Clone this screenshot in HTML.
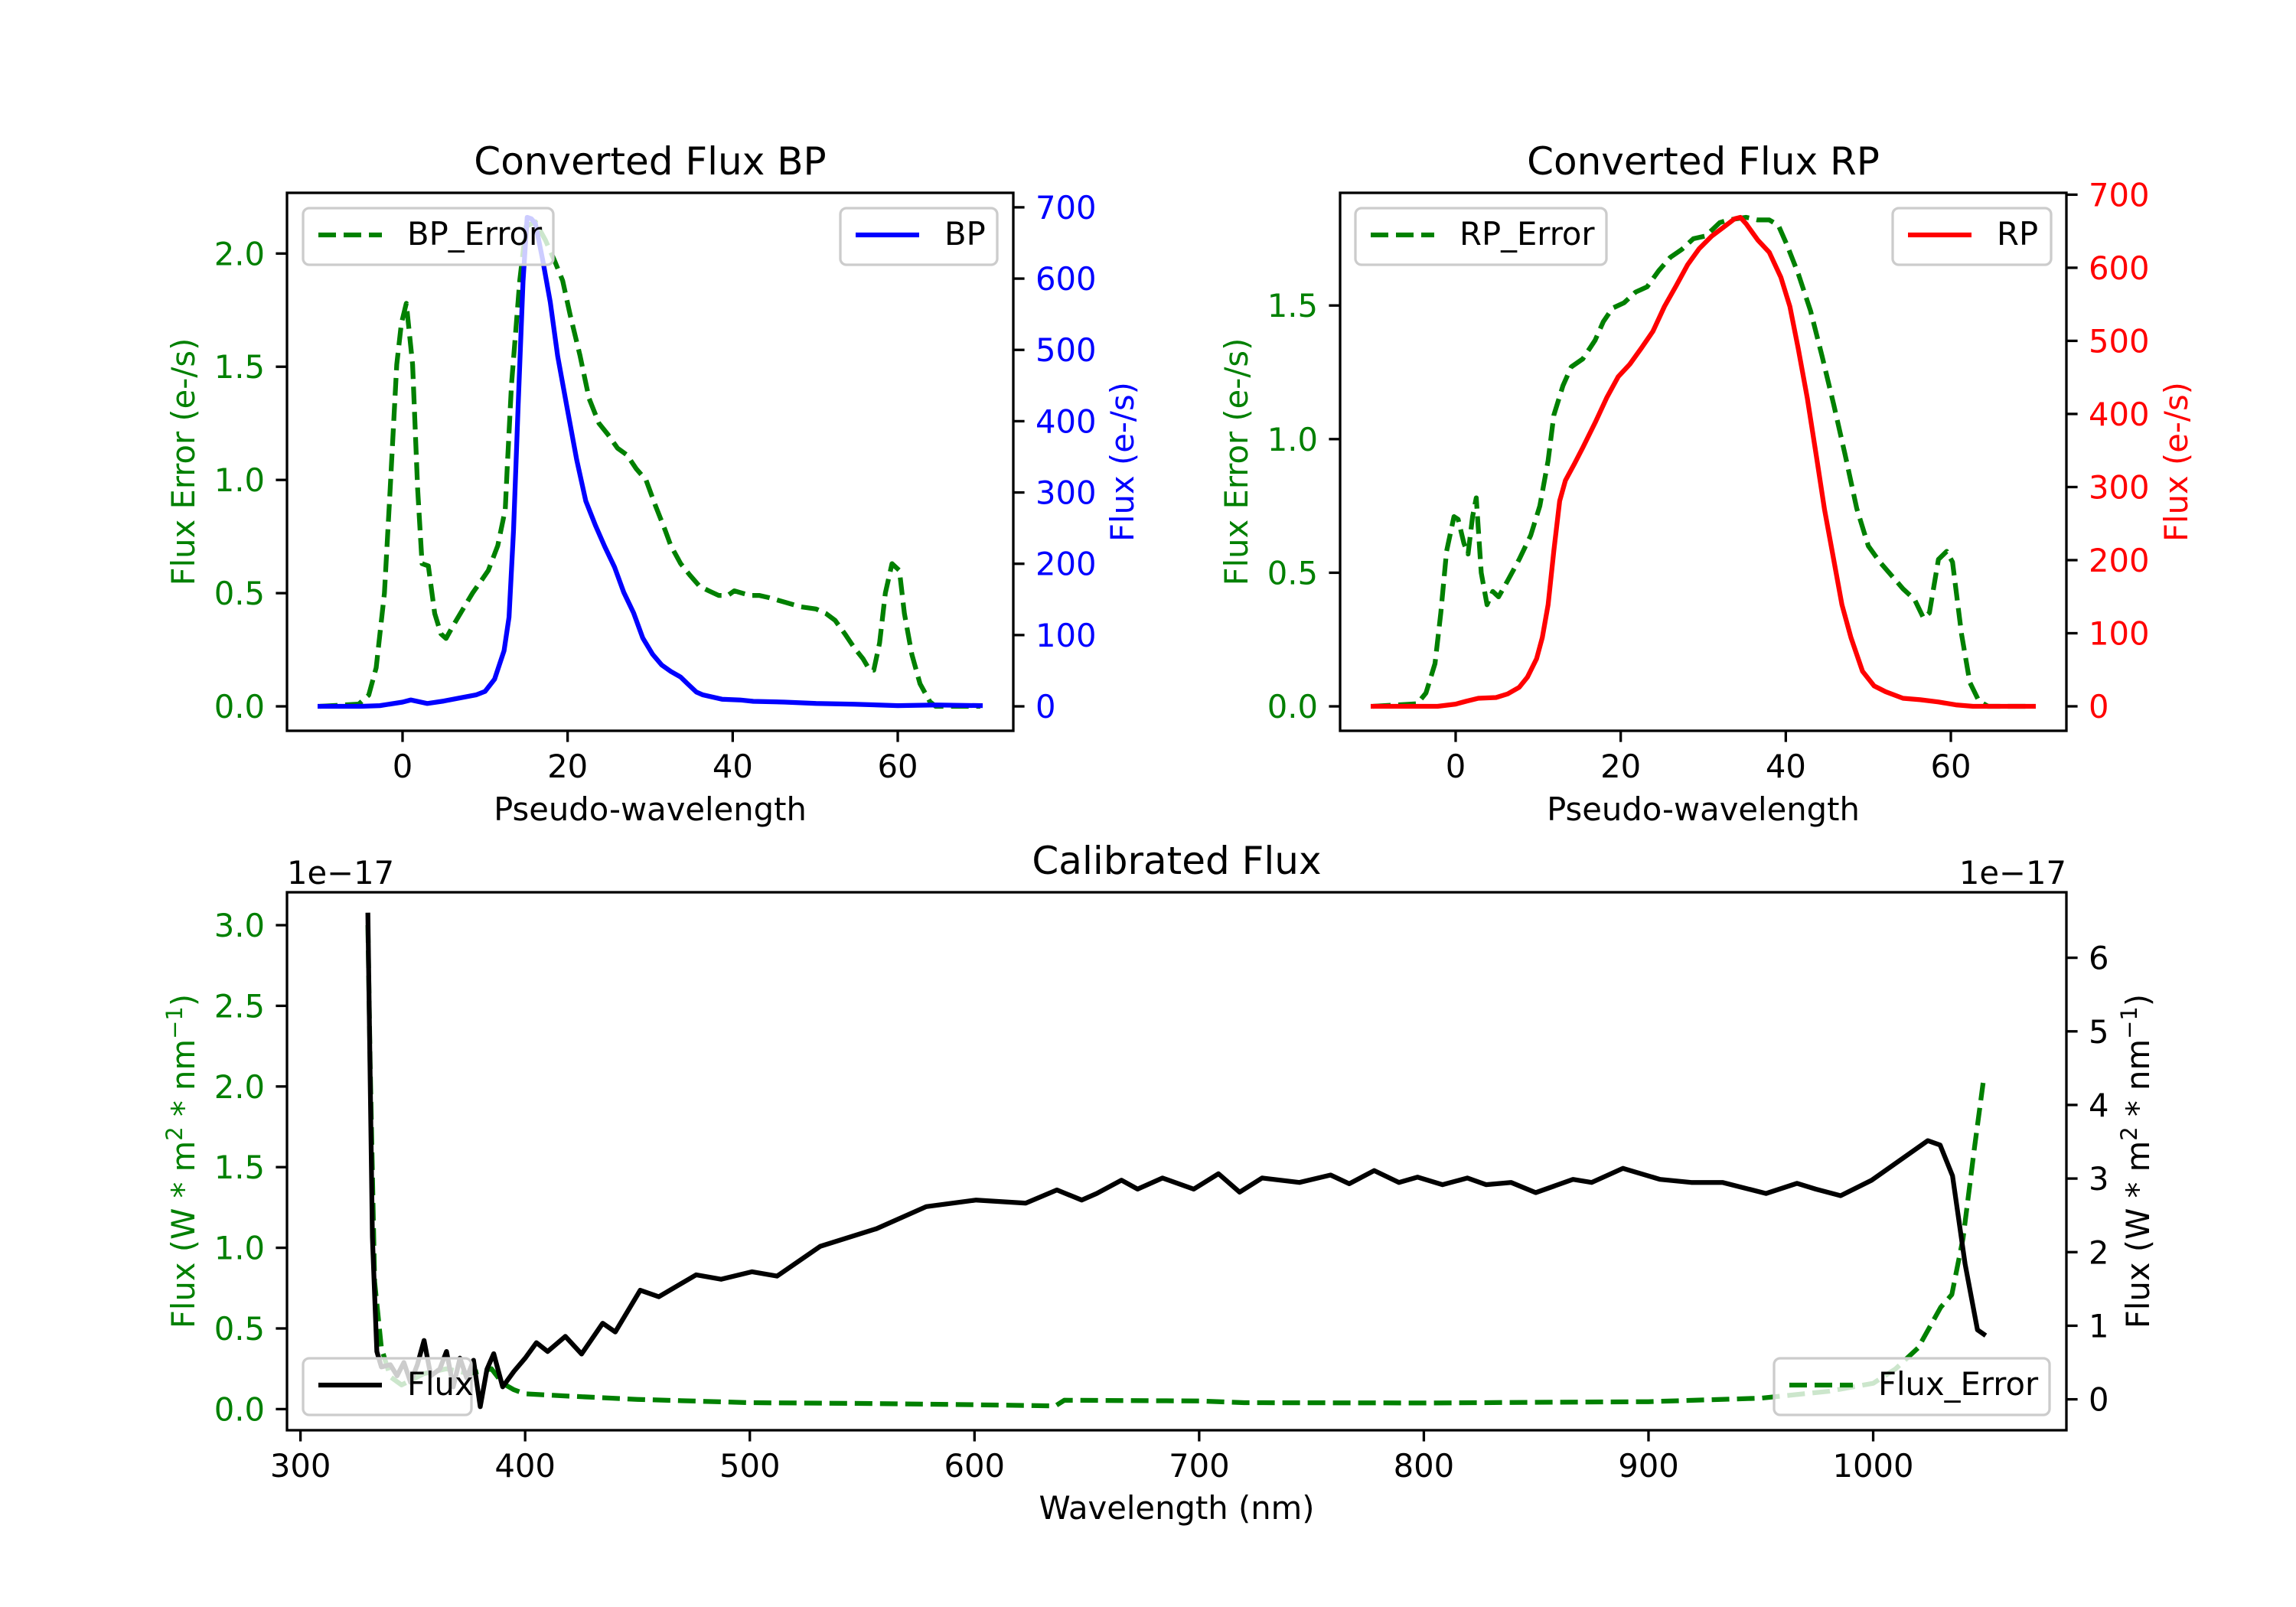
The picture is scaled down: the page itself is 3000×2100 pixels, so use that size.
<!DOCTYPE html>
<html><head><meta charset="utf-8">
<style>
html,body{margin:0;padding:0;background:#fff;}
svg{display:block;font-family:"DejaVu Sans","Liberation Sans",sans-serif;}
</style></head>
<body>
<svg id="fig" width="3000" height="2100" viewBox="0 0 3000 2100" xmlns="http://www.w3.org/2000/svg">
<rect x="0" y="0" width="3000" height="2100" fill="#fff"/>
</svg>
<script>
// ---- BP chart data ----
const bpX = [-10,-5,-2.75,0,1,3,5,7,8.9,10,11.15,12.3,12.9,13.45,14,14.6,15.1,15.6,16.1,17,17.9,18.8,19.9,21.1,22.2,23.4,24.5,25.7,26.8,28,29.1,30.3,31.4,32.5,33.7,34.5,35.6,36.4,38.7,40.9,42.5,46.3,50.1,54.7,60,64.6,70];
const bpFlux = [0,0,1,6,9,4,7.5,12,16,21,38,78,125,247,421,596,686,684,677,625,567,491,421,346,288,253,224,195,160,131,96,73,58,49,41,32,20,16,10,9,7,6,4,3,1,2,1];
const bpErrX = [-10,-5.3,-4.1,-3.2,-2.2,-1.5,-0.7,-0.15,0.46,1.22,1.83,2.37,3.13,3.9,4.66,5.27,6.19,7.33,8.48,9.63,10.39,11.54,12.45,12.68,13.2,14.2,14.97,16.1,17.3,18.4,19.4,20.3,21.5,22.6,23.8,24.9,26.05,27.2,28.3,29.5,30.6,31.8,32.5,33.7,34.8,36.0,37.1,38.3,39.4,40.2,42.1,43.2,44.4,46.3,48.2,50.1,51.3,52.4,53.6,54.7,55.8,56.6,57.1,57.8,58.5,59.3,60.2,60.8,61.7,62.7,63.9,64.6,70];
const bpErr = [0,0.01,0.05,0.17,0.5,0.96,1.51,1.69,1.78,1.51,0.96,0.63,0.62,0.41,0.32,0.30,0.36,0.43,0.50,0.56,0.60,0.71,0.87,1.05,1.42,1.88,2.12,2.14,2.06,1.97,1.88,1.73,1.55,1.36,1.25,1.20,1.14,1.11,1.05,1.00,0.89,0.78,0.71,0.63,0.58,0.53,0.51,0.49,0.49,0.51,0.49,0.49,0.48,0.46,0.44,0.43,0.41,0.38,0.32,0.26,0.21,0.16,0.16,0.28,0.50,0.63,0.60,0.41,0.23,0.10,0.02,0,0];
// ---- RP chart data ----
const rpX = [-10,-2.2,0,1.3,2.75,4.9,6.3,7.7,8.7,9.8,10.5,11.2,11.9,12.6,13.3,14.4,15.4,16.9,18.3,19.7,21.1,22.5,23.9,25.3,26.7,28.1,29.5,31,32.4,33.8,34.5,35.2,36.6,38,39.4,40.5,41.5,42.6,43.7,44.7,45.8,46.8,47.9,49.3,50.7,52.1,54.2,56.3,58.5,60.6,62.7,70];
const rpFlux = [0,0,3,7,11,12,17,26,40,65,94,139,213,281,309,332,354,388,422,451,468,490,513,547,575,604,626,643,655,667,669,660,638,621,587,547,490,422,343,269,201,139,94,48,28,20,11,9,6,2,0,0];
const rpErrX = [-10,-4.65,-3.6,-2.5,-1.8,-1.1,-0.2,0.3,1,1.5,2.05,2.5,3.1,3.8,4.5,5.2,6.3,7.7,9.1,10.2,11.2,11.9,13,14,15.4,16.9,17.9,19,20.4,21.8,23.2,24.6,26,27.4,28.8,30.3,32,33.1,35.2,36.6,38,39.1,40.1,41.5,43,44.4,45.8,47.2,48.6,50,51.4,52.8,54.2,55.6,56.7,57.4,58.5,59.5,60.2,61.3,62.3,63.4,64.5,70];
const rpErr = [0,0.01,0.05,0.16,0.35,0.58,0.71,0.70,0.61,0.57,0.71,0.78,0.50,0.38,0.43,0.41,0.47,0.55,0.64,0.75,0.92,1.09,1.20,1.27,1.30,1.37,1.44,1.49,1.51,1.55,1.57,1.63,1.68,1.71,1.75,1.76,1.81,1.82,1.83,1.82,1.82,1.80,1.73,1.62,1.48,1.31,1.13,0.94,0.74,0.60,0.54,0.49,0.44,0.40,0.33,0.35,0.55,0.58,0.54,0.27,0.09,0.02,0,0];
// ---- Calibrated flux data (units 1e-17) ----
const calX = [330,332,334,336,340,343,346,349,352,355,358,362,365,368,371,374,377,380,383,386,390,395,400,405,410,417.9,425.1,434.5,440.1,451.2,459.5,476.1,487.2,501,512.1,531.4,556.4,578.5,600.7,622.8,636.7,647.7,654.4,665.4,672.6,683.7,697.6,708.6,718,728,744.6,758.5,766.8,777.9,788.9,797.2,808.3,819.4,827.7,838.8,849.8,866.4,874.7,888.6,905.2,919,932.9,952.3,966.1,974.4,985.5,999.3,1013.2,1024.3,1029.8,1035.3,1040.9,1046.4,1049.2];
const calFlux = [6.58,2.2,0.65,0.44,0.47,0.32,0.5,0.23,0.47,0.8,0.32,0.41,0.65,0.17,0.56,0.29,0.53,-0.1,0.41,0.62,0.17,0.38,0.56,0.77,0.65,0.855,0.616,1.034,0.915,1.482,1.393,1.692,1.632,1.733,1.674,2.080,2.319,2.618,2.708,2.666,2.845,2.708,2.797,2.977,2.857,3.007,2.857,3.066,2.815,3.007,2.947,3.048,2.929,3.108,2.947,3.019,2.917,3.007,2.917,2.947,2.809,2.989,2.947,3.138,2.989,2.947,2.947,2.797,2.935,2.857,2.767,2.977,3.276,3.515,3.455,3.036,1.841,0.944,0.885];
const calErrX = [330,331,333,336,340,345,355,365,375,385,390,395,400,420,450,500,550,600,636,640,700,720,800,900,950,980,1000,1010,1020,1030,1035,1040,1045,1049];
const calErr = [3.0,2.15,0.79,0.38,0.2,0.15,0.22,0.25,0.22,0.25,0.16,0.12,0.095,0.08,0.06,0.04,0.035,0.027,0.02,0.055,0.05,0.04,0.038,0.046,0.068,0.11,0.16,0.25,0.38,0.63,0.71,1.06,1.61,2.03];
// tick labels
const pseudoTicks = [0,20,40,60];
const bpErrTicks = [0,0.5,1.0,1.5,2.0];
const fluxTicks = [0,100,200,300,400,500,600,700];
const rpErrTicks = [0,0.5,1.0,1.5];
const wlTicks = [300,400,500,600,700,800,900,1000];
const calErrTicks = [0,0.5,1.0,1.5,2.0,2.5,3.0];
const calFluxTicks = [0,1,2,3,4,5,6];

const NS = "http://www.w3.org/2000/svg";
const svg = document.getElementById('fig');
function el(tag, attrs, parent, text){
  const e = document.createElementNS(NS, tag);
  for (const k in attrs) e.setAttribute(k, attrs[k]);
  if (text !== undefined) e.textContent = text;
  (parent || svg).appendChild(e);
  return e;
}
function scale(d0,d1,p0,p1){ return v => p0 + (v-d0)/(d1-d0)*(p1-p0); }
function fmt(v, dec){ return dec ? v.toFixed(1) : String(v); }
let clipId = 0;
function makeClip(b){
  const id = 'clip' + (clipId++);
  const cp = el('clipPath', {id:id});
  el('rect', {x:b.x, y:b.y, width:b.w, height:b.h}, cp);
  return id;
}
function drawLine(g, xs, ys, sx, sy, color, dashed, name){
  let d = '';
  for (let i=0;i<xs.length;i++) d += (i?'L':'M') + sx(xs[i]).toFixed(1) + ',' + sy(ys[i]).toFixed(1);
  const p = el('path', {d:d, fill:'none', stroke:color, 'stroke-width':6.25, 'stroke-linejoin':'round', 'stroke-linecap': dashed?'butt':'square'}, g);
  if (dashed) p.setAttribute('stroke-dasharray','23 10');
  
  
  return p;
}
function xTicks(b, sx, ticks){
  const g = el('g', {});
  
  
  ticks.forEach(t=>{
    const x = sx(t);
    el('line', {x1:x, y1:b.y+b.h, x2:x, y2:b.y+b.h+14.6, stroke:'#000', 'stroke-width':3.3}, g);
    const tx = el('text', {x:x, y:b.y+b.h+61, 'font-size':41.7, 'text-anchor':'middle', fill:'#000'}, g, String(t));
    
    
  });
}
function yTicks(b, sy, ticks, side, color, dec){
  const g = el('g', {});
  
  
  ticks.forEach(t=>{
    const y = sy(t);
    const x0 = side==='left' ? b.x : b.x+b.w;
    const x1 = side==='left' ? x0-14.6 : x0+14.6;
    el('line', {x1:x0, y1:y, x2:x1, y2:y, stroke:'#000', 'stroke-width':3.3}, g);
    const tx = el('text', {x: side==='left' ? x0-29 : x0+29, y:y+15, 'font-size':41.7, 'text-anchor': side==='left'?'end':'start', fill:color}, g, fmt(t,dec));
    
    
  });
}
function frame(b, name){
  const r = el('rect', {x:b.x, y:b.y, width:b.w, height:b.h, fill:'none', stroke:'#000', 'stroke-width':3.3});
  
  
}
function legend(x, y, w, label, color, dashed, name){
  const g = el('g', {});
  
  
  el('rect', {x:x, y:y, width:w, height:74, rx:8, fill:'#fff', 'fill-opacity':0.8, stroke:'#cccccc', 'stroke-width':3.3}, g);
  const ln = el('line', {x1:x+20, y1:y+35, x2:x+103, y2:y+35, stroke:color, 'stroke-width':6.25}, g);
  if (dashed) ln.setAttribute('stroke-dasharray','23 10');
  el('text', {x:x+136, y:y+48, 'font-size':41.7, fill:'#000'}, g, label);
}
function text(x, y, s, attrs, name){
  const a = Object.assign({x:x, y:y, 'font-size':41.7, fill:'#000'}, attrs||{});
  const t = el('text', a, svg, s);
  
  
  return t;
}
function rotLabel(cx, cy, s, color, name){
  const t = el('text', {x:0, y:0, 'font-size':41.7, fill:color, 'text-anchor':'middle', transform:'translate('+cx+','+cy+') rotate(-90)'}, svg, s);
  
  
  return t;
}

// ===== BP =====
(function(){
  const b = {x:375, y:252, w:949, h:703};
  const sx = scale(-14, 74, b.x, b.x+b.w);
  const syL = scale(-0.108, 2.268, b.y+b.h, b.y);
  const syR = scale(-34.3, 720.3, b.y+b.h, b.y);
  const g = el('g', {'clip-path':'url(#'+makeClip(b)+')'});
  
  
  drawLine(g, bpErrX, bpErr, sx, syL, '#008000', true, 'bp-error-line');
  drawLine(g, bpX, bpFlux, sx, syR, '#0000ff', false, 'bp-flux-line');
  frame(b, 'bp-axes-frame');
  xTicks(b, sx, pseudoTicks);
  yTicks(b, syL, bpErrTicks, 'left', '#008000', true);
  yTicks(b, syR, fluxTicks, 'right', '#0000ff', false);
  text(b.x+b.w/2, 228, 'Converted Flux BP', {'font-size':50, 'text-anchor':'middle'}, 'bp-title');
  text(b.x+b.w/2, 1072, 'Pseudo-wavelength', {'text-anchor':'middle'}, 'bp-x-axis-title');
  rotLabel(254, b.y+b.h/2, 'Flux Error (e-/s)', '#008000', 'bp-left-y-axis-title');
  rotLabel(1481, b.y+b.h/2, 'Flux (e-/s)', '#0000ff', 'bp-right-y-axis-title');
  legend(396, 272, 327, 'BP_Error', '#008000', true, 'bp-error-legend');
  legend(1098, 272, 205, 'BP', '#0000ff', false, 'bp-legend');
})();

// ===== RP =====
(function(){
  const b = {x:1751, y:252, w:949, h:703};
  const sx = scale(-14, 74, b.x, b.x+b.w);
  const syL = scale(-0.0915, 1.9215, b.y+b.h, b.y);
  const syR = scale(-33.5, 702.5, b.y+b.h, b.y);
  const g = el('g', {'clip-path':'url(#'+makeClip(b)+')'});
  
  
  drawLine(g, rpErrX, rpErr, sx, syL, '#008000', true, 'rp-error-line');
  drawLine(g, rpX, rpFlux, sx, syR, '#ff0000', false, 'rp-flux-line');
  frame(b, 'rp-axes-frame');
  xTicks(b, sx, pseudoTicks);
  yTicks(b, syL, rpErrTicks, 'left', '#008000', true);
  yTicks(b, syR, fluxTicks, 'right', '#ff0000', false);
  text(b.x+b.w/2, 228, 'Converted Flux RP', {'font-size':50, 'text-anchor':'middle'}, 'rp-title');
  text(b.x+b.w/2, 1072, 'Pseudo-wavelength', {'text-anchor':'middle'}, 'rp-x-axis-title');
  rotLabel(1630, b.y+b.h/2, 'Flux Error (e-/s)', '#008000', 'rp-left-y-axis-title');
  rotLabel(2858, b.y+b.h/2, 'Flux (e-/s)', '#ff0000', 'rp-right-y-axis-title');
  legend(1771, 272, 328, 'RP_Error', '#008000', true, 'rp-error-legend');
  legend(2473, 272, 207, 'RP', '#ff0000', false, 'rp-legend');
})();

// ===== Calibrated =====
(function(){
  const b = {x:375, y:1166, w:2325, h:703};
  const sx = scale(294, 1086, b.x, b.x+b.w);
  const syL = scale(-0.131, 3.204, b.y+b.h, b.y);
  const syR = scale(-0.42, 6.89, b.y+b.h, b.y);
  const g = el('g', {'clip-path':'url(#'+makeClip(b)+')'});
  
  
  drawLine(g, calErrX, calErr, sx, syL, '#008000', true, 'flux-error-line');
  drawLine(g, calX, calFlux, sx, syR, '#000000', false, 'flux-line');
  frame(b, 'calibrated-axes-frame');
  xTicks(b, sx, wlTicks);
  yTicks(b, syL, calErrTicks, 'left', '#008000', true);
  yTicks(b, syR, calFluxTicks, 'right', '#000', false);
  text(b.x+b.w/2, 1142, 'Calibrated Flux', {'font-size':50, 'text-anchor':'middle'}, 'calibrated-title');
  text(b.x+b.w/2, 1985, 'Wavelength (nm)', {'text-anchor':'middle'}, 'calibrated-x-axis-title');
  text(375, 1155, '1e\u221217', {}, 'left-offset-text');
  text(2700, 1155, '1e\u221217', {'text-anchor':'end'}, 'right-offset-text');
  const l = rotLabel(254, b.y+b.h/2, '', '#008000', 'calibrated-left-y-axis-title');
  const r = rotLabel(2808, b.y+b.h/2, '', '#000', 'calibrated-right-y-axis-title');
  [l, r].forEach(t=>{
    el('tspan', {}, t, 'Flux (W * m');
    el('tspan', {'font-size':29, dy:-16}, t, '2');
    el('tspan', {dy:16}, t, ' * nm');
    el('tspan', {'font-size':29, dy:-16}, t, '\u22121');
    el('tspan', {dy:16}, t, ')');
  });
  legend(396, 1775, 220, 'Flux', '#000', false, 'flux-legend');
  legend(2318, 1775, 360, 'Flux_Error', '#008000', true, 'flux-error-legend');
})();
</script>
</body></html>
